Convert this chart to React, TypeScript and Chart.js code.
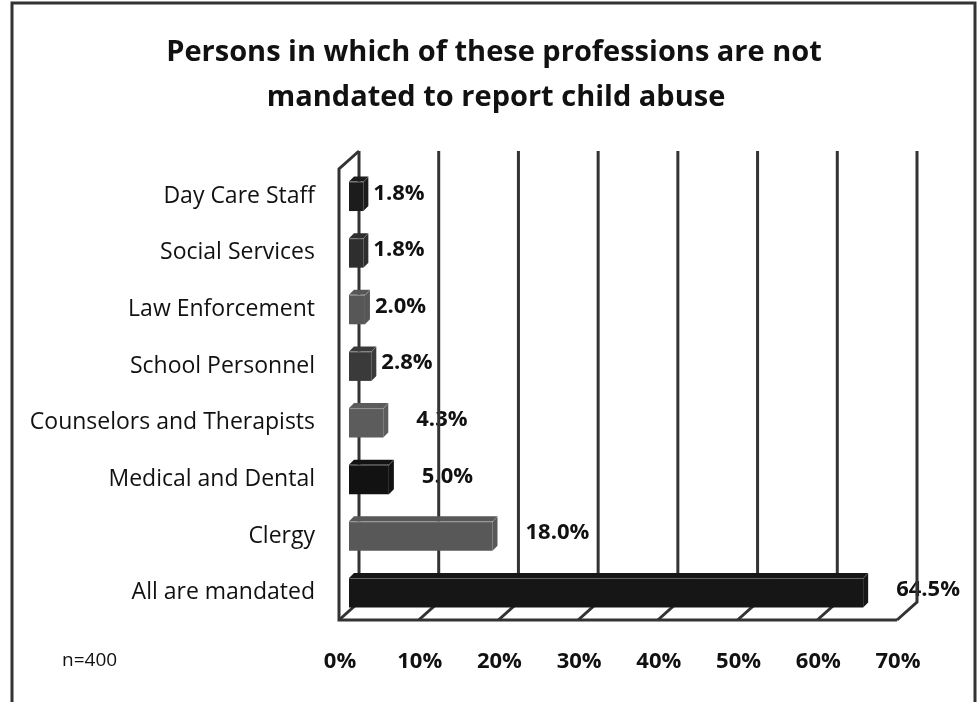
import React, { useEffect, useRef } from 'react';
import { Chart, registerables } from 'chart.js';

Chart.register(...registerables);

const titleLines = ['Persons in which of these professions are not', 'mandated to report child abuse'];
const categories = [
  'Day Care Staff',
  'Social Services',
  'Law Enforcement',
  'School Personnel',
  'Counselors and Therapists',
  'Medical and Dental',
  'Clergy',
  'All are mandated',
];
const values = [1.8, 1.8, 2.0, 2.8, 4.3, 5.0, 18.0, 64.5];
const barColors = ['#1c1c1c', '#2e2e2e', '#575757', '#3a3a3a', '#5c5c5c', '#121212', '#585858', '#161616'];
const xTicks = [0, 10, 20, 30, 40, 50, 60, 70];
const sampleNote = 'n=400';

const FONT = '"Open Sans", Lato, sans-serif';
const DX = 10;
const DY = 9;

const decorPlugin = {
  id: 'decor',
  beforeDraw(chart: any) {
    const { ctx, width, height } = chart;
    ctx.save();
    ctx.fillStyle = '#ffffff';
    ctx.fillRect(0, 0, width, height);
    ctx.strokeStyle = '#333333';
    ctx.lineWidth = 3;
    ctx.strokeRect(12, 3, 963, height + 10);
    // title
    ctx.fillStyle = '#111111';
    ctx.font = `bold 29px ${FONT}`;
    ctx.textAlign = 'center';
    ctx.textBaseline = 'alphabetic';
    ctx.fillText(titleLines[0], 494, 61);
    ctx.fillText(titleLines[1], 496, 106);
    ctx.restore();
  },
  beforeDatasetsDraw(chart: any) {
    const { ctx, chartArea } = chart;
    const xs = chart.scales.x;
    const meta = chart.getDatasetMeta(0);
    ctx.save();
    // data labels (drawn under the walls/gridlines like the original)
    ctx.font = `bold 22px ${FONT}`;
    ctx.fillStyle = '#111111';
    ctx.textAlign = 'left';
    ctx.textBaseline = 'middle';
    meta.data.forEach((el: any, i: number) => {
      const v = values[i];
      const off = v < 3 ? 10 : 33;
      ctx.fillText(v.toFixed(1) + '%', el.x + off, el.y - 3);
    });
    // sample size note
    ctx.font = `19px ${FONT}`;
    ctx.fillText(sampleNote, 62, 661);

    // 3D walls / gridlines
    const floorMid = chartArea.bottom - 10;
    const backTop = chartArea.top - 17;
    ctx.strokeStyle = '#333333';
    ctx.lineWidth = 3;
    ctx.lineJoin = 'miter';
    xTicks.forEach((v) => {
      const x = xs.getPixelForValue(v);
      ctx.beginPath();
      ctx.moveTo(x + DX, backTop);
      ctx.lineTo(x + DX, floorMid - DY);
      ctx.lineTo(x - DX, floorMid + DY);
      ctx.stroke();
    });
    const x0 = xs.getPixelForValue(xTicks[0]);
    const xN = xs.getPixelForValue(xTicks[xTicks.length - 1]);
    ctx.beginPath();
    ctx.moveTo(xN - DX, floorMid + DY);
    ctx.lineTo(x0 - DX, floorMid + DY);
    ctx.lineTo(x0 - DX, backTop + 2 * DY);
    ctx.lineTo(x0 + DX, backTop);
    ctx.stroke();
    ctx.restore();
  },
  afterDatasetsDraw(chart: any) {
    const { ctx } = chart;
    const meta = chart.getDatasetMeta(0);
    const d = 5;
    ctx.save();
    meta.data.forEach((el: any, i: number) => {
      const left = el.base;
      const right = el.x;
      const top = el.y - el.height / 2;
      const bottom = el.y + el.height / 2;
      ctx.fillStyle = barColors[i];
      ctx.beginPath();
      ctx.moveTo(left, top);
      ctx.lineTo(left + d, top - d);
      ctx.lineTo(right + d, top - d);
      ctx.lineTo(right + d, bottom - d);
      ctx.lineTo(right, bottom);
      ctx.lineTo(right, top);
      ctx.closePath();
      ctx.fill();
      ctx.strokeStyle = 'rgba(255,255,255,0.35)';
      ctx.lineWidth = 1;
      ctx.beginPath();
      ctx.moveTo(left + 0.5, top + 0.5);
      ctx.lineTo(right, top + 0.5);
      ctx.lineTo(right + d, top - d);
      ctx.stroke();
    });
    ctx.restore();
  },
};

export default function App() {
  const ref = useRef<HTMLCanvasElement | null>(null);
  useEffect(() => {
    if (!ref.current) return;
    const chart = new Chart(ref.current, {
      type: 'bar',
      data: {
        labels: categories,
        datasets: [
          {
            data: values,
            backgroundColor: barColors,
            borderWidth: 0,
            barPercentage: 0.52,
            categoryPercentage: 1,
          },
        ],
      },
      options: {
        indexAxis: 'y',
        animation: false,
        responsive: false,
        maintainAspectRatio: false,
        layout: { padding: { top: 168, left: 10, right: 71, bottom: 28 } },
        plugins: {
          legend: { display: false },
          tooltip: { enabled: false },
          title: { display: false },
        },
        scales: {
          x: {
            min: 0,
            max: 70,
            grid: { display: false, drawTicks: false },
            border: { display: false },
            afterBuildTicks: (axis: any) => {
              axis.ticks = xTicks.map((v) => ({ value: v }));
            },
            afterFit: (axis: any) => {
              axis.height = 53;
            },
            ticks: {
              padding: 28,
              labelOffset: -9,
              maxRotation: 0,
              autoSkip: false,
              color: '#111111',
              font: { family: FONT, size: 22, weight: 'bold' },
              callback: (v: any) => v + '%',
            },
          },
          y: {
            grid: { display: false, drawTicks: false },
            border: { display: false },
            afterFit: (axis: any) => {
              axis.width = 339;
            },
            ticks: {
              padding: 34,
              color: '#111111',
              font: { family: FONT, size: 23 },
            },
          },
        },
      },
      plugins: [decorPlugin],
    } as any);
    return () => chart.destroy();
  }, []);
  return (
    <div style={{ position: 'fixed', left: 0, top: 0, width: 978, height: 702, background: '#fff' }}>
      <canvas ref={ref} width={978} height={702} style={{ display: 'block' }} />
    </div>
  );
}
